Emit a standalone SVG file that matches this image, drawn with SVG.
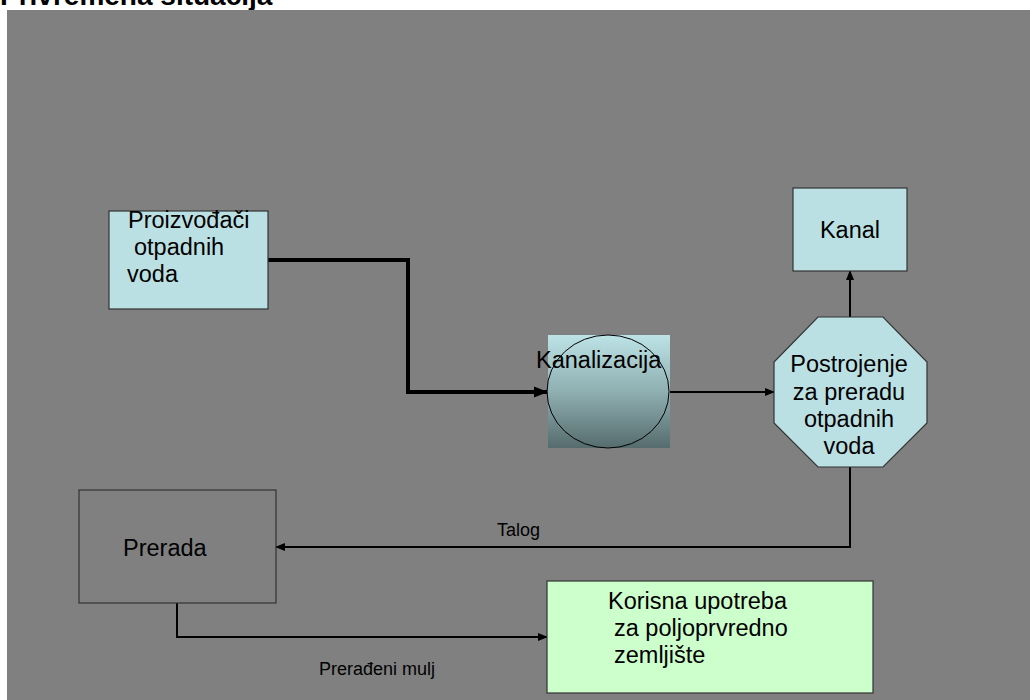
<svg xmlns="http://www.w3.org/2000/svg" width="1030" height="700" viewBox="0 0 1030 700">
  <style>
    .t { font-family: "Liberation Sans", Arial, sans-serif; font-size: 23.5px; fill: #000; }
    .s { font-family: "Liberation Sans", Arial, sans-serif; font-size: 18px; fill: #000; }
    .box { stroke: #333; stroke-width: 1.2; }
    .blue { fill: #BBE0E3; }
    .green { fill: #CCFFCC; }
    .conn { fill: none; stroke: #000; stroke-width: 2; }
    .thick { fill: none; stroke: #000; stroke-width: 4; }
  </style>
  <defs>
    <marker id="arr" markerWidth="10" markerHeight="10" refX="9" refY="5" orient="auto" markerUnits="userSpaceOnUse">
      <path d="M0,1 L10,5 L0,9 Z" fill="#000"/>
    </marker>
    <marker id="arrBig" markerWidth="14" markerHeight="12" refX="13" refY="6" orient="auto" markerUnits="userSpaceOnUse">
      <path d="M0,0.5 L14,6 L0,11.5 Z" fill="#000"/>
    </marker>
    <linearGradient id="grad" x1="0" y1="0" x2="0" y2="1">
      <stop offset="0" stop-color="#BDE3E6"/>
      <stop offset="0.5" stop-color="#8FAFB1"/>
      <stop offset="1" stop-color="#566C6E"/>
    </linearGradient>
  </defs>
  <rect x="0" y="0" width="1030" height="700" fill="#fff"/>
  <text x="0" y="5" font-family="Liberation Sans, Arial, sans-serif" font-weight="bold" font-size="28" fill="#000">Privremena situacija</text>
  <rect x="7" y="10" width="1023" height="690" fill="#808080"/>

  <g id="connectors">
    <polyline class="thick" points="268,260 408,260 408,392 547,392" marker-end="url(#arrBig)"/>
    <line class="conn" x1="669" y1="392" x2="774" y2="392" marker-end="url(#arr)"/>
    <line class="conn" x1="850" y1="317" x2="850" y2="271" marker-end="url(#arr)"/>
    <polyline class="conn" points="850,467 850,547 276,547" marker-end="url(#arr)"/>
    <text class="s" x="497" y="536">Talog</text>
    <polyline class="conn" points="177,603 177,637 547,637" marker-end="url(#arr)"/>
    <text class="s" x="319" y="675">Prerađeni mulj</text>
  </g>

  <g id="proizvodjaci">
    <rect class="box blue" x="109" y="211" width="159" height="98"/>
    <text class="t" x="128" y="228">Proizvođači</text>
    <text class="t" x="134" y="255">otpadnih</text>
    <text class="t" x="127" y="282">voda</text>
  </g>

  <g id="kanalizacija">
    <rect x="548" y="335" width="122" height="113" fill="url(#grad)"/>
    <ellipse cx="608" cy="391.5" rx="61" ry="56.5" fill="none" stroke="#000" stroke-width="1"/>
    <text class="t" x="536" y="368">Kanalizacija</text>
  </g>

  <g id="postrojenje">
    <polygon class="box blue" points="818,317 883,317 927,362 927,423 883,467 818,467 774,423 774,362"/>
    <text class="t" x="849" y="372" text-anchor="middle">Postrojenje</text>
    <text class="t" x="849" y="400" text-anchor="middle">za preradu</text>
    <text class="t" x="849" y="427" text-anchor="middle">otpadnih</text>
    <text class="t" x="849" y="454" text-anchor="middle">voda</text>
  </g>

  <g id="kanal">
    <rect class="box blue" x="793" y="188" width="114" height="83"/>
    <text class="t" x="850" y="238" text-anchor="middle">Kanal</text>
  </g>

  <g id="prerada">
    <rect class="box" x="79" y="490" width="197" height="113" fill="none"/>
    <text class="t" x="123" y="556">Prerada</text>
  </g>

  <g id="korisna">
    <rect class="box green" x="547" y="581" width="326" height="112"/>
    <text class="t" x="608" y="609">Korisna upotreba</text>
    <text class="t" x="614" y="636">za poljoprvredno</text>
    <text class="t" x="614" y="663">zemljište</text>
  </g>
</svg>
